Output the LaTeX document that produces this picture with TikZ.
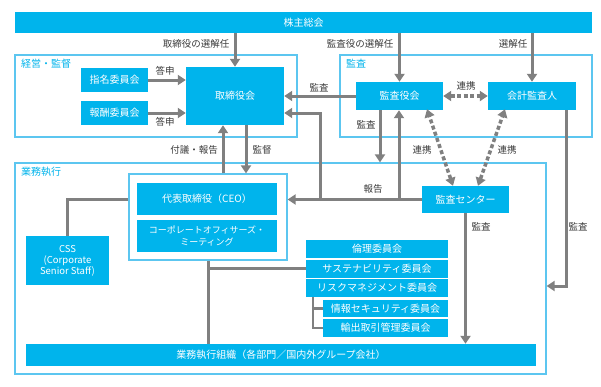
\documentclass[tikz,border=0pt]{standalone}
\usepackage{fontspec}
\setmainfont{Noto Sans CJK JP}
\usetikzlibrary{arrows.meta}
\definecolor{cy}{HTML}{00B4EC}
\definecolor{fr}{HTML}{5CC6F0}
\definecolor{gr}{HTML}{808080}
\definecolor{tx}{HTML}{3A3A3A}
\begin{document}
\begin{tikzpicture}[x=1pt,y=-1pt,
 box/.style={fill=cy,text=white,inner sep=0pt,font=\fontsize{10}{12}\selectfont,align=center},
 frame/.style={draw=fr,line width=1.2pt,fill=white,inner sep=0pt},
 lbl/.style={text=tx,font=\fontsize{9.5}{11}\selectfont,inner sep=0pt},
 ftitle/.style={text=cy,font=\fontsize{10}{12}\selectfont,inner sep=0pt,anchor=west},
 conn/.style={draw=gr,line width=3pt},
 thinconn/.style={draw=gr,line width=2.4pt},
 arr/.style={conn,-{Triangle[width=10pt,length=8pt]}},
 darr/.style={draw=gr,line width=3.5pt,dash pattern=on 4pt off 2.5pt,{Triangle[width=10pt,length=8pt]}-{Triangle[width=10pt,length=8pt]}},
]
\useasboundingbox (0,0) rectangle (601,386);
% frames
\node[frame,minimum width=282pt,minimum height=82pt] (kf) at (156,96) {};
\node[frame,minimum width=252pt,minimum height=82pt] (sf) at (466,96) {};
\node[frame,minimum width=531pt,minimum height=211pt] (gyomu) at (280.5,268.5) {};
\node[ftitle] (t1) at (21,64) {経営・監督};
\node[ftitle] (t2) at (346,64) {監査};
\node[ftitle] (t3) at (21,172) {業務執行};
% boxes
\node[box,minimum width=577pt,minimum height=21pt] (top) at (303.5,22.5) {株主総会};
\node[box,minimum width=67pt,minimum height=24pt] (shimei) at (114.5,80) {指名委員会};
\node[box,minimum width=67pt,minimum height=24pt] (houshu) at (114.5,113) {報酬委員会};
\node[box,minimum width=98pt,minimum height=58pt] (torishimari) at (235,96) {取締役会};
\node[box,minimum width=87pt,minimum height=28pt] (kansayaku) at (399.5,96) {監査役会};
\node[box,minimum width=88pt,minimum height=28pt] (kaikei) at (532,96) {会計監査人};
\node[box,minimum width=87pt,minimum height=27pt] (center) at (465.5,199.5) {監査センター};
\node[frame,minimum width=158pt,minimum height=86pt] (ceoframe) at (208,217) {};
\node[box,minimum width=140pt,minimum height=32pt] (ceo) at (207,199) {代表取締役（CEO）};
\node[box,minimum width=140pt,minimum height=32pt,font=\fontsize{9}{12}\selectfont] (com) at (207,236) {コーポレートオフィサーズ・\\ミーティング};
\node[box,minimum width=83pt,minimum height=49pt,font=\fontsize{9.5}{11}\selectfont] (css) at (67.5,260.5) {CSS\\(Corporate\\Senior Staff)};
\node[box,minimum width=142pt,minimum height=18pt] (rinri) at (377,249) {倫理委員会};
\node[box,minimum width=142pt,minimum height=18pt] (sust) at (377,268.5) {サステナビリティ委員会};
\node[box,minimum width=142pt,minimum height=18pt] (risk) at (377,288) {リスクマネジメント委員会};
\node[box,minimum width=125pt,minimum height=17pt] (joho) at (385.5,308.5) {情報セキュリティ委員会};
\node[box,minimum width=125pt,minimum height=18pt] (yushutsu) at (385.5,328) {輸出取引管理委員会};
\node[box,minimum width=510pt,minimum height=22pt] (org) at (281,355) {業務執行組織（各部門／国内外グループ会社）};
% coordinates
\coordinate (kc) at (566,286);
\coordinate (r1) at (320,199);
\coordinate (r2) at (399,199);
% connectors
\draw[arr] (top.south -| torishimari.north) -- (torishimari.north);
\draw[arr] (top.south -| kansayaku.north) -- (kansayaku.north);
\draw[arr] (top.south -| kaikei.north) -- (kaikei.north);
\draw[arr] (shimei.east) -- (shimei.east -| torishimari.west);
\draw[arr] (houshu.east) -- (houshu.east -| torishimari.west);
\draw[arr] (kansayaku.west) -- (kansayaku.west -| torishimari.east);
\draw[darr] (kansayaku.east) -- (kaikei.west);
\draw[arr] ([xshift=-19.5pt]kansayaku.south) -- ([xshift=-19.5pt]kansayaku.south |- gyomu.north);
\draw[arr] (kaikei.south -| kc) -- (kc) -- (kc -| gyomu.east);
\draw[arr] (center.west) -- (center.west -| ceoframe.east);
\draw[arr] (r1 |- center.west) -- (r1 |- houshu.east) -- (torishimari.east |- houshu.east);
\draw[arr] (r2 |- center.west) -- (r2 |- kansayaku.south);
\draw[darr] ([xshift=-12.5pt]center.north) -- ([xshift=27.5pt,yshift=1pt]kansayaku.south);
\draw[darr] ([xshift=12.5pt]center.north) -- ([xshift=-27pt,yshift=1pt]kaikei.south);
\draw[arr] ([xshift=15pt]ceoframe.north) -- ([xshift=15pt]ceoframe.north |- torishimari.south);
\draw[arr] ([xshift=38pt]ceoframe.north |- torishimari.south) -- ([xshift=38pt]ceoframe.north);
\draw[conn] (ceoframe.west |- ceo.west) -- (css.north |- ceo.west) -- (css.north);
\draw[conn] (ceoframe.south) -- (ceoframe.south |- org.north);
\draw[conn] (ceoframe.south |- sust.west) -- (sust.west);
\draw[thinconn] ([xshift=-64pt]risk.south) |- (yushutsu.west);
\draw[thinconn] ([xshift=-64pt]risk.south |- joho.west) -- (joho.west);
\draw[arr] (center.south) -- (center.south |- org.north);
% labels
\node[lbl] (l1) at (196,44) {取締役の選解任};
\node[lbl] (l2) at (360,44) {監査役の選解任};
\node[lbl] (l3) at (513,44) {選解任};
\node[lbl] (l4) at (165,71) {答申};
\node[lbl] (l5) at (165,122) {答申};
\node[lbl] (l6) at (319,88) {監査};
\node[lbl] (l7) at (466,86) {連携};
\node[lbl] (l8) at (366,125) {監査};
\node[lbl] (l9) at (194,150) {付議・報告};
\node[lbl] (l10) at (262,150) {監督};
\node[lbl] (l11) at (422,150) {連携};
\node[lbl] (l12) at (507,150) {連携};
\node[lbl] (l13) at (373,189) {報告};
\node[lbl] (l14) at (481,227) {監査};
\node[lbl] (l15) at (578,227) {監査};
\end{tikzpicture}
\end{document}
